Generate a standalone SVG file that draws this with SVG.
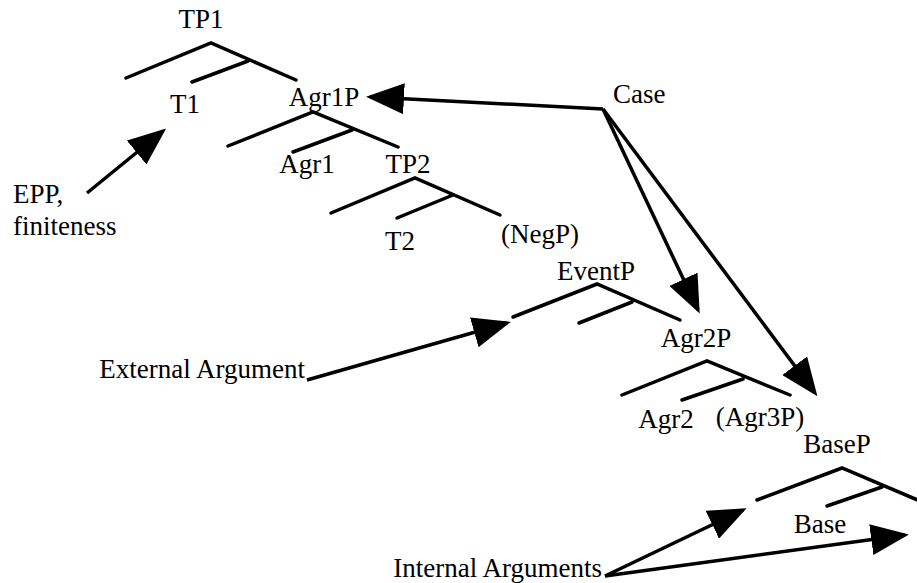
<svg xmlns="http://www.w3.org/2000/svg" width="917" height="583" viewBox="0 0 917 583">
<style>
text{font-family:"Liberation Serif","Times New Roman",serif;font-size:27px;fill:#000}
.m{text-anchor:middle}
.e{text-anchor:end}
.br{stroke:#000;stroke-width:3.5;fill:none;stroke-linecap:round;stroke-linejoin:miter}
.ar{stroke:#000;stroke-width:3.5;fill:none;marker-end:url(#ah)}
</style>
<defs>
<marker id="ah" markerUnits="userSpaceOnUse" markerWidth="38" markerHeight="31" viewBox="0 0 38 31" refX="34" refY="15.5" orient="auto">
<path d="M0,0 L38,15.5 L0,31 z" fill="#000"/>
</marker>
</defs>
<rect width="917" height="583" fill="#fff"/>
<g id="TP1">
<text class="m" x="201" y="28">TP1</text>
<path class="br" d="M126,78 L211,43 L296,80 M248,61 L192,82"/>
</g>
<g id="T1"><text class="m" x="185" y="113">T1</text></g>
<g id="Agr1P">
<text class="m" x="324" y="106">Agr1P</text>
<path class="br" d="M228,146 L313,112 L398,147 M352,130 L293,152"/>
</g>
<g id="Agr1"><text class="m" x="307" y="173">Agr1</text></g>
<g id="TP2">
<text class="m" x="408" y="173">TP2</text>
<path class="br" d="M331,213 L415,178 L500,215 M453,195 L397,218"/>
</g>
<g id="T2"><text class="m" x="400" y="250">T2</text></g>
<g id="NegP"><text class="m" x="540" y="243">(NegP)</text></g>
<g id="EventP">
<text class="m" x="596" y="280">EventP</text>
<path class="br" d="M513,317 L597,284 L680,320 M632,302 L579,323"/>
</g>
<g id="Agr2P">
<text class="m" x="696" y="347">Agr2P</text>
<path class="br" d="M622,395 L707,361 L790,395 M743,379 L682,400"/>
</g>
<g id="Agr2"><text class="m" x="666" y="428">Agr2</text></g>
<g id="Agr3P"><text class="m" x="760" y="426">(Agr3P)</text></g>
<g id="BaseP">
<text class="m" x="837" y="453">BaseP</text>
<path class="br" d="M757,500 L842,468 L920,501 M882,487 L827,506"/>
</g>
<g id="Base"><text class="m" x="820" y="533">Base</text></g>
<g id="Case"><text x="613" y="103">Case</text></g>
<g id="EPP"><text x="13" y="203">EPP,</text><text x="13" y="235">finiteness</text></g>
<g id="ExternalArgument"><text class="e" x="305" y="378">External Argument</text></g>
<g id="InternalArguments"><text class="e" x="602" y="577">Internal Arguments</text></g>
<g id="connectors">
<path class="ar" d="M603,109 L370,97"/>
<path class="ar" d="M603,109 L698,310"/>
<path class="ar" d="M603,109 L815,393"/>
<path class="ar" d="M87,193 L163,131"/>
<path class="ar" d="M307,380 L507,323"/>
<path class="ar" d="M605,576 L743,510"/>
<path class="ar" d="M605,576 L905,535"/>
</g>
</svg>
